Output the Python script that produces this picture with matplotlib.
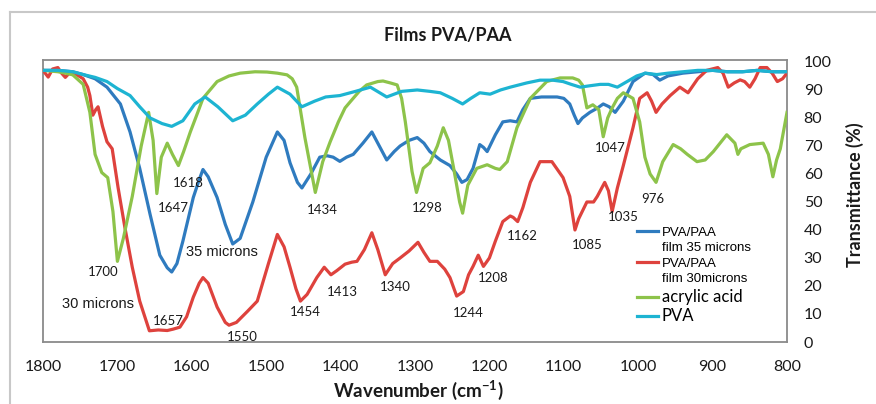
import matplotlib
matplotlib.use("Agg")
import matplotlib.pyplot as plt
from matplotlib.lines import Line2D

# ---- spectra (wavenumber in cm^-1, transmittance in %) ----
pva_x = [1800, 1780, 1760, 1746, 1730, 1714, 1700, 1683, 1670, 1656, 1640, 1627, 1612,
         1596, 1582, 1565, 1545, 1528, 1512, 1497, 1485, 1468, 1452, 1435, 1420, 1401,
         1380, 1360, 1338, 1318, 1297, 1280, 1266, 1250, 1236, 1225, 1213, 1199, 1185,
         1172, 1150, 1132, 1115, 1101, 1090, 1078, 1065, 1051, 1040, 1028, 1015, 1002,
         990, 975, 960, 940, 920, 900, 880, 860, 840, 820, 800]
pva_y = [97, 97, 96.5, 95.5, 94.5, 93, 90.5, 88, 84, 80, 78, 77, 79,
         85, 87.5, 84, 79, 81, 85, 88.5, 91, 88.5, 84, 86, 87.5, 88,
         89.5, 91, 87.5, 89.5, 90, 89.5, 89, 87, 85, 87, 89, 88.5, 90,
         91, 92.5, 93.5, 93.5, 93, 92, 91, 91.5, 92, 92, 91, 93, 95,
         96, 95.5, 96, 96.5, 97, 97, 96.5, 96.5, 97, 96.5, 96.5]

film35_x = [1800, 1780, 1760, 1746, 1730, 1714, 1705, 1696, 1683, 1670, 1656, 1643, 1633,
            1627, 1620, 1612, 1598, 1590, 1585, 1578, 1566, 1555, 1545, 1535, 1518, 1500,
            1485, 1476, 1468, 1458, 1452, 1440, 1428, 1418, 1410, 1401, 1392, 1383, 1370,
            1358, 1348, 1338, 1328, 1320, 1308, 1297, 1288, 1280, 1266, 1253, 1244, 1237,
            1230, 1222, 1213, 1208, 1203, 1192, 1182, 1172, 1163, 1155, 1145, 1130, 1109,
            1100, 1092, 1086, 1081, 1075, 1065, 1055, 1047, 1039, 1031, 1020, 1007, 991,
            980, 971, 960, 940, 920, 900, 880, 860, 840, 820, 800]
film35_y = [97, 97, 96.5, 95.5, 94, 91, 88, 85, 75, 62, 45.5, 31, 26.5,
            25, 28, 36, 51.6, 58, 61.6, 59, 51.6, 42, 35, 37, 50, 66,
            75, 72, 64, 57, 55, 60, 66, 66.5, 66, 64.5, 66, 67, 71,
            75, 70, 65, 68, 70, 72, 73, 71, 68, 65, 63, 60, 57,
            58, 62, 70.5, 69.5, 68, 74, 78.6, 79, 78.6, 83, 87, 87.5, 87.5,
            87, 85, 81, 78, 80, 82, 83.5, 85, 84, 82, 86, 93, 96,
            95.5, 93.5, 95, 96, 96.5, 97, 96.5, 96.5, 97, 96.5, 96.5]

film30_x = [1800, 1793, 1787, 1780, 1775, 1770, 1763, 1755, 1746, 1740, 1737, 1733, 1729,
            1726, 1720, 1714, 1707, 1699, 1690, 1680, 1670, 1657, 1645, 1633, 1625, 1616,
            1607, 1598, 1590, 1585, 1578, 1566, 1555, 1550, 1540, 1525, 1512, 1497, 1485,
            1476, 1468, 1460, 1454, 1445, 1432, 1422, 1418, 1413, 1405, 1394, 1385, 1378,
            1368, 1358, 1350, 1340, 1330, 1320, 1308, 1296, 1288, 1280, 1270, 1260, 1253,
            1244, 1235, 1228, 1222, 1215, 1208, 1200, 1192, 1182, 1172, 1168, 1162, 1155,
            1145, 1132, 1116, 1101, 1092, 1085, 1080, 1069, 1060, 1055, 1045, 1040, 1035,
            1028, 1020, 1007, 998, 988, 982, 976, 968, 957, 944, 933, 920, 908,
            893, 886, 879, 871, 863, 857, 850, 843, 836, 827, 820, 813, 806, 800]
film30_y = [97, 94.6, 97.5, 98, 96, 94.5, 96.5, 95.5, 94, 91, 88, 81, 83,
            84, 77, 71.5, 69, 55, 41, 26.7, 14.6, 4.0, 4.3, 4.1, 4.6, 5.3,
            9, 16, 21, 23, 21, 12.5, 7, 6, 7, 11, 14.6, 28, 38.4,
            34, 26.7, 19, 14.6, 17, 23, 26.7, 25.5, 24, 25.5, 27.8, 28.5, 28.8,
            33, 39, 33, 24, 28, 30, 32.5, 35.6, 32, 28.8, 28.8, 26, 23,
            16.4, 18, 24, 27, 31, 27, 30, 36, 43, 45, 44.5, 43, 48,
            57, 64.4, 64.4, 58.7, 52, 40, 44, 50, 50, 52, 57, 54, 46.6,
            55, 63, 76.5, 87, 89, 86, 82, 85, 88, 91, 89, 94, 97,
            98, 96, 91, 92.5, 93.6, 93, 91, 94, 98, 98, 96, 93, 94, 96]

acrylic_x = [1800, 1780, 1770, 1760, 1746, 1737, 1730, 1721, 1713, 1706, 1700, 1692, 1680,
             1668, 1658, 1652, 1647, 1641, 1633, 1626, 1618, 1611, 1602, 1592, 1585, 1566,
             1550, 1535, 1515, 1499, 1485, 1472, 1465, 1459, 1448, 1434, 1424, 1414, 1403,
             1394, 1387, 1375, 1365, 1350, 1343, 1333, 1324, 1318, 1313, 1304, 1298, 1289,
             1280, 1270, 1262, 1255, 1248, 1240, 1236, 1229, 1217, 1203, 1192, 1186, 1176,
             1163, 1145, 1123, 1105, 1088, 1080, 1075, 1069, 1061, 1053, 1047, 1041, 1035,
             1028, 1020, 1007, 998, 991, 984, 976, 967, 953, 943, 934, 921, 910,
             899, 890, 881, 870, 866, 862, 850, 832, 825, 819, 814, 809, 800]
acrylic_y = [97, 96.5, 96, 95.4, 92, 82, 67, 60.5, 58.7, 46.6, 28.8, 37, 52,
             70, 82, 72, 53, 66, 71, 67, 63, 68, 75, 82, 87, 93,
             95, 96, 96.5, 96.4, 96, 95.4, 94, 91, 73, 53.4, 64.4, 71.5, 78.6,
             83.6, 85.8, 89.5, 91.8, 93, 93.2, 92.5, 91.8, 87, 78.6, 60.9, 53.4, 62,
             64, 70, 76.5, 72, 62, 50, 46, 56, 62, 63.3, 62, 61.6, 64.4,
             76.5, 87, 93, 94.3, 94.3, 93.5, 91.8, 83.6, 84.7, 83, 73.3, 80, 83.6,
             87, 89, 87, 78.6, 66, 60, 57, 64.4, 70.5, 69, 67, 64.4, 65,
             68, 71, 74, 71, 67, 69, 70.5, 71, 67, 59, 65, 69, 82]

# peak annotations: (text, wavenumber, transmittance)
peak_labels = [("1700", 1719, 25), ("1657", 1632, 7.5), ("1647", 1625, 48),
               ("1618", 1605, 56.6), ("1550", 1532, 1.8), ("1454", 1448, 10.7),
               ("1434", 1425, 47.3), ("1413", 1397, 17.8), ("1340", 1327, 19.6),
               ("1298", 1284, 47.7), ("1244", 1229, 10.3), ("1208", 1195, 23),
               ("1162", 1156, 37.7), ("1085", 1069, 34.5), ("1047", 1037, 69.4),
               ("1035", 1020, 44.5), ("976", 980, 51)]
thickness_labels = [("35 microns", 1559, 32), ("30 microns", 1726, 13.5)]

x_ticks = [1800, 1700, 1600, 1500, 1400, 1300, 1200, 1100, 1000, 900, 800]
y_ticks = [0, 10, 20, 30, 40, 50, 60, 70, 80, 90, 100]

series_colors = ["#2f7bbf", "#de423d", "#8dc34a", "#1db4d2"]

plt.rcParams["mathtext.fontset"] = "custom"
plt.rcParams["mathtext.rm"] = "Lato"
plt.rcParams["mathtext.bf"] = "Lato:bold"

fig = plt.figure(figsize=(8.76, 4.04), dpi=100)
ax = fig.add_axes([43 / 876, 1 - 342 / 404, 744 / 876, 282 / 404])

lw = 2.3
l35, = ax.plot(film35_x, film35_y, color=series_colors[0], lw=lw, zorder=3,
               solid_joinstyle="round")
l30, = ax.plot(film30_x, film30_y, color=series_colors[1], lw=lw, zorder=4,
               solid_joinstyle="round")
lac, = ax.plot(acrylic_x, acrylic_y, color=series_colors[2], lw=lw, zorder=5,
               solid_joinstyle="round")
lpva, = ax.plot(pva_x, pva_y, color=series_colors[3], lw=lw, zorder=6,
                solid_joinstyle="round")

ax.set_xlim(1800, 800)
ax.set_ylim(0, 100.7)
ax.set_xticks(x_ticks)
ax.set_yticks(y_ticks)
ax.yaxis.tick_right()
ax.tick_params(axis="both", length=0, labelsize=11.5, labelcolor="#1a1a1a")
ax.tick_params(axis="x", pad=13)
ax.tick_params(axis="y", pad=12)
for lab in ax.get_xticklabels() + ax.get_yticklabels():
    lab.set_fontfamily("Lato")
for sp in ax.spines.values():
    sp.set_color("#8a8a8a")
    sp.set_linewidth(1.3)

for txt, x, y in peak_labels:
    ax.text(x, y, txt, ha="center", va="center", fontsize=9.5, family="Lato",
            color="#1a1a1a", zorder=8)
for txt, x, y in thickness_labels:
    ax.text(x, y, txt, ha="center", va="center", fontsize=10.5,
            family="Liberation Sans", color="#1a1a1a", zorder=8)

# legend: multi-line entries keep the handle beside the first line
blank = Line2D([], [], color="none")
handles = [l35, blank, l30, blank, lac, lpva]
labels = ["PVA/PAA", "film 35 microns", "PVA/PAA", "film 30microns",
          "acrylic acid", "PVA"]
leg = ax.legend(handles, labels, loc="upper left", bbox_to_anchor=(0.798, 0.41),
                frameon=False, borderpad=0, borderaxespad=0, handlelength=1.6,
                handletextpad=0.3, labelspacing=0.25,
                prop={"family": "Liberation Sans", "size": 9.5})
texts = leg.get_texts()
for t in texts[4:]:
    t.set_fontfamily("Lato")
    t.set_fontsize(12)

fig.text(448 / 876, 1 - 35 / 404, "Films PVA/PAA", ha="center", va="center",
         fontsize=13, fontweight="bold", family="Lato", color="#1a1a1a")
fig.text(418 / 876, 1 - 390 / 404, r"Wavenumber (cm$^{\mathbf{-1}}$)", ha="center",
         va="center", fontsize=13.5, fontweight="bold", family="Lato", color="#1a1a1a")
fig.text(855 / 876, 1 - 195 / 404, "Transmittance (%)", ha="center", va="center",
         rotation=90, fontsize=13, fontweight="bold", family="Lato", color="#1a1a1a")

# chart-area border (left and top edges)
fig.add_artist(Line2D([10 / 876, 10 / 876], [0, 1 - 12 / 404], transform=fig.transFigure,
                      color="#c8c8c8", lw=1.5))
fig.add_artist(Line2D([10 / 876, 1], [1 - 12 / 404, 1 - 12 / 404], transform=fig.transFigure,
                      color="#c8c8c8", lw=1.5))

fig.savefig("out.png", dpi=100)
